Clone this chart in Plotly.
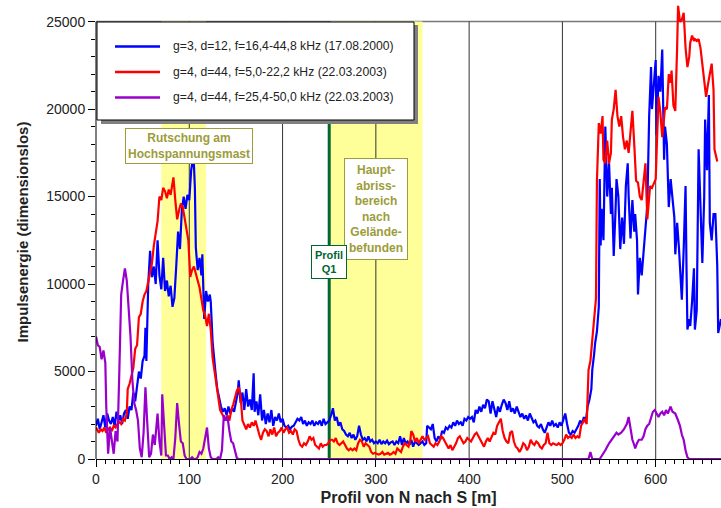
import plotly.graph_objects as go

# ---------------- data ----------------
blue_x = [0,2,4,6,8,10,12,14,16,18,20,22,24,26,28,30,32,34,36,38,40,42,44,46,48,50,52,53,54,56,58,60,62,64,66,68,70,72,74,76,78,80,82,84,86,88,90,92,94,96,98,100,102,104,105,106,107,109,111,113,114,116,118,120,122,123,125,127,128,130,132,134,136,138,140,142,144,146,148,150,152,153,155,157,159,161,163,165,167,169,170,172,174,176,178,180,182,184,186,188,190,192,194,196,198,200,202,204,206,208,210,212,214,216,218,220,222,224,226,228,230,232,234,236,238,240,242,244,246,248,250,252,254,256,258,260,262,264,266,268,270,272,274,276,278,280,282,284,286,288,290,292,294,296,298,300,302,304,306,308,310,312,314,316,318,320,322,324,326,328,330,332,334,336,338,340,342,344,346,348,350,352,354,355,357,359,361,363,365,367,369,371,373,375,377,379,381,383,385,387,389,391,393,395,397,399,401,403,405,407,409,411,413,415,417,419,421,423,425,427,429,431,433,435,437,439,441,443,445,447,449,451,453,455,457,459,461,463,465,467,469,471,473,475,477,479,481,483,485,487,489,491,493,495,497,499,501,503,505,507,509,511,513,515,517,519,521,523,525,527,529,531,532,534,535,537,539,540,541,542,543,544,546,548,550,552,553,555,557,558,560,562,564,566,568,570,571,573,575,577,578,580,581,583,585,587,589,591,593,595,596,598,600,601,603,605,607,609,610,612,614,616,618,620,621,623,625,627,628,630,632,633,634,636,637,639,641,642,644,646,648,650,652,653,655,657,658,660,662,664,666,667,670]
blue_y = [1900,2300,1700,2100,2500,1800,2600,2200,2000,2400,1900,2700,2200,2500,2000,2600,2800,2300,3000,2800,3800,3300,4100,5000,4600,5600,5900,7500,5600,10000,11900,10400,11000,10000,12500,10500,9700,11500,9600,10200,9300,9900,8700,9200,11000,13000,12000,14200,15000,14300,15100,14800,16500,17200,16800,15500,12100,10800,11500,10500,11700,8000,9600,9000,9400,9000,6700,5800,5000,4000,3400,3000,2700,2900,2500,3000,2600,2900,2700,3200,3800,4500,3200,3800,2800,4000,3000,3400,2800,4900,2700,3300,2500,3700,2200,2800,2000,2600,2100,2800,1900,2400,2200,2600,2100,2300,1900,1800,1900,1700,1850,1900,2100,2300,2200,2400,2000,2200,1900,2100,2000,2200,1900,2100,2000,2200,1900,2300,2000,2100,2200,2500,2900,2200,2400,1900,2100,1700,1600,1400,1300,1500,1200,1400,1100,1300,1900,1400,1100,1200,1000,1300,1000,1100,900,1000,900,1100,850,1000,900,1050,850,950,1000,800,1000,900,1300,800,1200,900,1000,800,1100,700,1000,900,800,900,1000,800,900,1900,1800,1700,2000,1200,1000,1300,1100,1600,1500,1800,1700,1900,1800,2100,1900,2200,2000,2100,1900,2300,2200,2400,2300,2400,2100,2800,2600,3000,2700,3100,2900,3400,3300,2600,3300,2800,2400,3000,2700,3100,3400,3200,2800,3300,2700,2900,2600,3000,2700,2400,2600,2300,2500,2200,2600,2300,2100,2200,1900,1800,2000,1700,1500,1800,2100,1900,2200,1900,2000,1800,2100,1900,2300,2600,2000,1500,1400,1600,1500,1700,1900,2200,2000,2400,2100,3000,3400,4000,5100,6000,6600,7300,8700,16000,12200,14300,13000,12500,19000,15000,16900,14000,15500,11600,14300,16000,15000,12000,13800,12300,15600,16900,15000,12600,14800,13000,14000,12500,9400,11500,10500,12000,13200,14500,19600,22400,20000,21500,22800,18500,21900,21000,23400,17100,19000,18000,14400,16000,15000,13800,11700,13500,12000,10000,9100,12000,15600,11000,7400,8000,7600,9000,10900,7400,8500,17700,14000,11200,15000,19400,16500,20800,13500,12500,14000,14000,11000,7200,8000]

red_x = [0,3,5,7,9,11,13,15,17,19,21,23,25,27,29,31,33,34,36,38,40,42,44,46,48,50,52,54,56,58,60,62,64,66,68,70,72,74,76,78,80,82,83,85,87,89,91,93,95,97,99,101,103,105,107,109,111,113,115,117,119,121,123,125,127,129,131,133,135,137,139,141,143,145,147,149,151,153,155,157,159,161,163,165,167,169,171,173,175,177,179,181,183,185,187,189,191,193,195,197,199,201,203,205,207,209,211,213,215,217,219,221,223,225,227,229,231,233,235,237,239,241,243,245,247,249,251,253,255,257,259,261,263,265,267,269,271,273,275,277,279,281,283,285,287,289,291,293,295,297,299,301,303,305,307,309,311,313,315,317,319,321,323,325,327,329,331,333,335,337,338,340,342,344,346,348,350,352,354,356,358,360,362,364,366,368,370,372,374,376,378,380,382,384,386,388,390,392,394,396,398,400,402,404,406,408,410,412,414,416,418,420,422,424,426,428,430,432,434,436,438,440,442,444,446,448,450,452,454,456,458,460,462,464,466,468,470,472,474,476,478,480,482,484,486,488,490,492,494,496,498,500,502,504,506,508,510,512,514,516,518,520,522,524,526,528,530,532,534,536,537,539,541,543,544,546,548,550,552,553,555,557,559,561,563,565,567,569,571,573,575,577,579,581,583,585,587,589,591,594,596,598,600,603,605,607,609,610,612,614,616,617,619,621,623,624,626,628,630,632,634,636,637,639,641,642,644,646,648,650,652,654,656,657,659,660,662,663,666,668,670]
red_y = [1800,1500,1700,1600,1800,1500,1700,1800,1600,1900,1800,2000,2100,2000,2300,2200,2600,4000,4300,4800,5200,6300,6500,8100,8300,9000,9400,9600,10200,10800,11200,12200,12800,13600,15000,14800,15500,15300,14900,15400,15100,15700,16100,14800,13700,14200,14600,14400,13800,13200,12500,10400,10800,11000,10500,10200,9800,9000,8500,8200,7600,8300,7400,5800,5000,4200,3400,2800,2600,2400,2300,2500,2200,2800,3100,3500,3900,4100,3600,2200,1900,1700,2000,1800,2100,1900,2200,1700,1400,1100,1500,1700,1600,1300,1700,1400,1800,1300,1500,1600,1800,1500,1700,1800,1500,1600,1400,1700,1600,1100,800,700,900,800,1000,1300,1100,1200,800,700,600,900,700,800,800,900,1100,1100,1000,1200,900,800,900,1000,800,600,500,600,500,600,500,900,1100,1000,700,900,800,700,400,300,350,300,250,300,400,250,300,350,250,300,400,300,600,500,400,700,900,800,700,1100,1600,1400,1000,1200,900,1100,1300,1100,1200,1300,900,800,700,900,800,1000,1300,1200,1000,800,600,800,500,700,900,1200,1300,1100,900,1000,1200,1100,1000,1200,1400,1500,1300,1100,900,700,1000,1200,1000,1300,1500,1400,1900,2100,2300,1600,1200,1000,900,1500,1600,1000,700,600,400,600,900,800,500,700,1100,900,800,1000,900,700,600,800,900,1500,900,800,900,850,800,900,800,900,1100,1400,1200,1300,1200,1400,1200,1300,1200,1900,2100,2300,2000,5100,5600,6800,7800,9200,15900,19200,18600,19600,17100,16900,18200,16900,17500,19400,20000,21100,19600,19000,19600,18400,17700,18200,17500,18500,19900,18000,15900,15800,15000,14800,16000,16900,13700,15600,15500,15800,16000,20700,19800,18400,19500,20100,20000,22000,21500,22200,20200,19900,23600,25900,25000,25100,25500,23500,22400,23000,23800,24200,23900,24000,23900,24000,23500,22500,21700,20700,21400,21700,22200,22600,21100,17700,17000]

purple_x = [0,2,4,6,8,10,11,13,15,17,19,21,23,25,27,29,31,33,35,37,39,41,43,45,47,49,51,53,55,57,59,61,63,65,66,68,70,71,73,75,77,79,81,83,85,87,89,91,93,95,97,99,101,103,105,107,109,111,113,115,117,119,121,123,125,127,129,131,133,135,137,139,141,143,145,147,149,151,153,528,530,532,540,544,546,550,553,556,558,560,563,566,569,571,573,575,577,578,580,582,585,587,589,591,593,595,597,599,601,603,605,607,609,611,613,616,618,621,624,626,628,630,632,634,636,670]
purple_y = [7000,6500,6400,5700,6200,5500,3000,300,1800,900,300,1600,1000,5000,9400,10200,10900,10200,8500,7000,4500,3200,2800,2200,600,100,1500,4100,2000,100,300,1400,800,1800,2600,1000,200,3700,2000,200,200,0,100,0,1200,3200,2000,1000,900,200,0,0,0,100,0,0,100,400,300,600,1200,1800,600,100,0,0,0,100,0,500,2500,2200,2400,1600,1000,900,400,50,0,0,400,0,0,300,500,900,1100,1300,1500,1400,1500,1700,2000,2400,1800,1100,800,600,900,1100,1100,1300,1700,1900,2000,2300,2700,2800,2600,2400,2600,2700,2500,2800,2600,3000,2700,2600,2200,1900,1400,1100,500,100,0,0]

names = ["g=3, d=12, f=16,4-44,8 kHz (17.08.2000)",
         "g=4, d=44, f=5,0-22,2 kHz (22.03.2003)",
         "g=4, d=44, f=25,4-50,0 kHz (22.03.2003)"]
colors = ["#0000FF", "#FF0000", "#9900CC"]

yellow_zones = [(70, 118), (250, 350)]
profil_x = 250
x_ticks = [0, 100, 200, 300, 400, 500, 600]
y_ticks = [0, 5000, 10000, 15000, 20000, 25000]
y_top = 25000

FONT = "Liberation Sans, Arial, sans-serif"
OLIVE = "#9C9C3A"
DGREEN = "#006633"

W, H = 721, 508
ML, MR, MT, MB = 96, 0, 5, 49
PW, PH = W - ML - MR, H - MT - MB


def px(xp):
    return (xp - ML) / PW


def py(yp):
    return (H - MB - yp) / PH


fig = go.Figure()
for i, (xs, ys) in enumerate([(blue_x, blue_y), (red_x, red_y), (purple_x, purple_y)]):
    fig.add_trace(go.Scatter(x=xs, y=ys, mode="lines", name=names[i],
                             line=dict(color=colors[i], width=2.2), showlegend=False))

shapes = []
for a, b in yellow_zones:
    shapes.append(dict(type="rect", xref="x", yref="y", x0=a, x1=b, y0=0, y1=y_top,
                       fillcolor="#FFFF99", line=dict(width=0), layer="below"))
for xv in x_ticks[1:]:
    shapes.append(dict(type="line", xref="x", yref="y", x0=xv, x1=xv, y0=0, y1=y_top,
                       line=dict(color="#333333", width=1), layer="below"))
shapes.append(dict(type="line", xref="x", yref="y", x0=profil_x, x1=profil_x, y0=0, y1=y_top,
                   line=dict(color=DGREEN, width=3), layer="below"))
shapes.append(dict(type="line", xref="paper", yref="y", x0=0, x1=1, y0=y_top, y1=y_top,
                   line=dict(color="#777777", width=1.5), layer="below"))
# y axis line (up to 25000 only)
shapes.append(dict(type="line", xref="paper", yref="y", x0=0, x1=0, y0=0, y1=y_top,
                   line=dict(color="black", width=1), layer="above"))

# manual legend box with shadow
shapes.append(dict(type="rect", xref="paper", yref="paper", x0=px(101), x1=px(418), y0=py(124), y1=py(25),
                   fillcolor="#808080", line=dict(width=0), layer="above"))
shapes.append(dict(type="rect", xref="paper", yref="paper", x0=px(97), x1=px(414), y0=py(120), y1=py(22),
                   fillcolor="white", line=dict(color="black", width=1), layer="above"))
annotations = []
for i, yy in enumerate([46.5, 72, 97.5]):
    shapes.append(dict(type="line", xref="paper", yref="paper", x0=px(115), x1=px(160), y0=py(yy), y1=py(yy),
                       line=dict(color=colors[i], width=2.5), layer="above"))
    annotations.append(dict(x=px(171), y=py(yy), xref="paper", yref="paper", xanchor="left",
                            yanchor="middle", showarrow=False, text=names[i],
                            font=dict(family=FONT, size=12.2, color="#222222")))

annotations += [
    dict(x=100, y=17900, xref="x", yref="y", showarrow=False,
         text="<b>Rutschung am<br>Hochspannungsmast</b>",
         font=dict(family=FONT, size=12, color=OLIVE),
         bgcolor="white", bordercolor=OLIVE, borderwidth=1, borderpad=2),
    dict(x=300, y=14270, xref="x", yref="y", showarrow=False,
         text="<b>Haupt-<br>abriss-<br>bereich<br>nach<br>Gelände-<br>befunden</b>",
         font=dict(family=FONT, size=12, color=OLIVE),
         bgcolor="white", bordercolor=OLIVE, borderwidth=1, borderpad=4),
    dict(x=250, y=11240, xref="x", yref="y", showarrow=False,
         text="<b>Profil<br>Q1</b>",
         font=dict(family=FONT, size=11, color=DGREEN),
         bgcolor="white", bordercolor=DGREEN, borderwidth=1, borderpad=3),
]

fig.update_layout(
    width=W, height=H,
    margin=dict(l=ML, r=MR, t=MT, b=MB),
    paper_bgcolor="white", plot_bgcolor="white",
    font=dict(family=FONT, size=12, color="#222222"),
    shapes=shapes,
    annotations=annotations,
    showlegend=False,
    xaxis=dict(range=[0, 670], tickvals=x_ticks, ticks="outside", ticklen=7,
               tickcolor="black", showline=True, linecolor="black", linewidth=1,
               showgrid=False, zeroline=False, tickfont=dict(size=14),
               minor=dict(dtick=10, ticks="outside", ticklen=4, tickcolor="black"),
               title=dict(text="<b>Profil von N nach S [m]</b>", font=dict(size=16, color="#222222"),
                          standoff=6)),
    yaxis=dict(range=[0, 25950], tickvals=y_ticks, tickformat="d", ticks="outside", ticklen=7,
               tickcolor="black", showline=False, tickfont=dict(size=14),
               showgrid=False, zeroline=False,
               minor=dict(dtick=1000, ticks="outside", ticklen=4, tickcolor="black"),
               title=dict(text="<b>Impulsenergie (dimensionslos)</b>", font=dict(size=15, color="#222222"),
                          standoff=14)),
)

fig.write_html("out.html")
